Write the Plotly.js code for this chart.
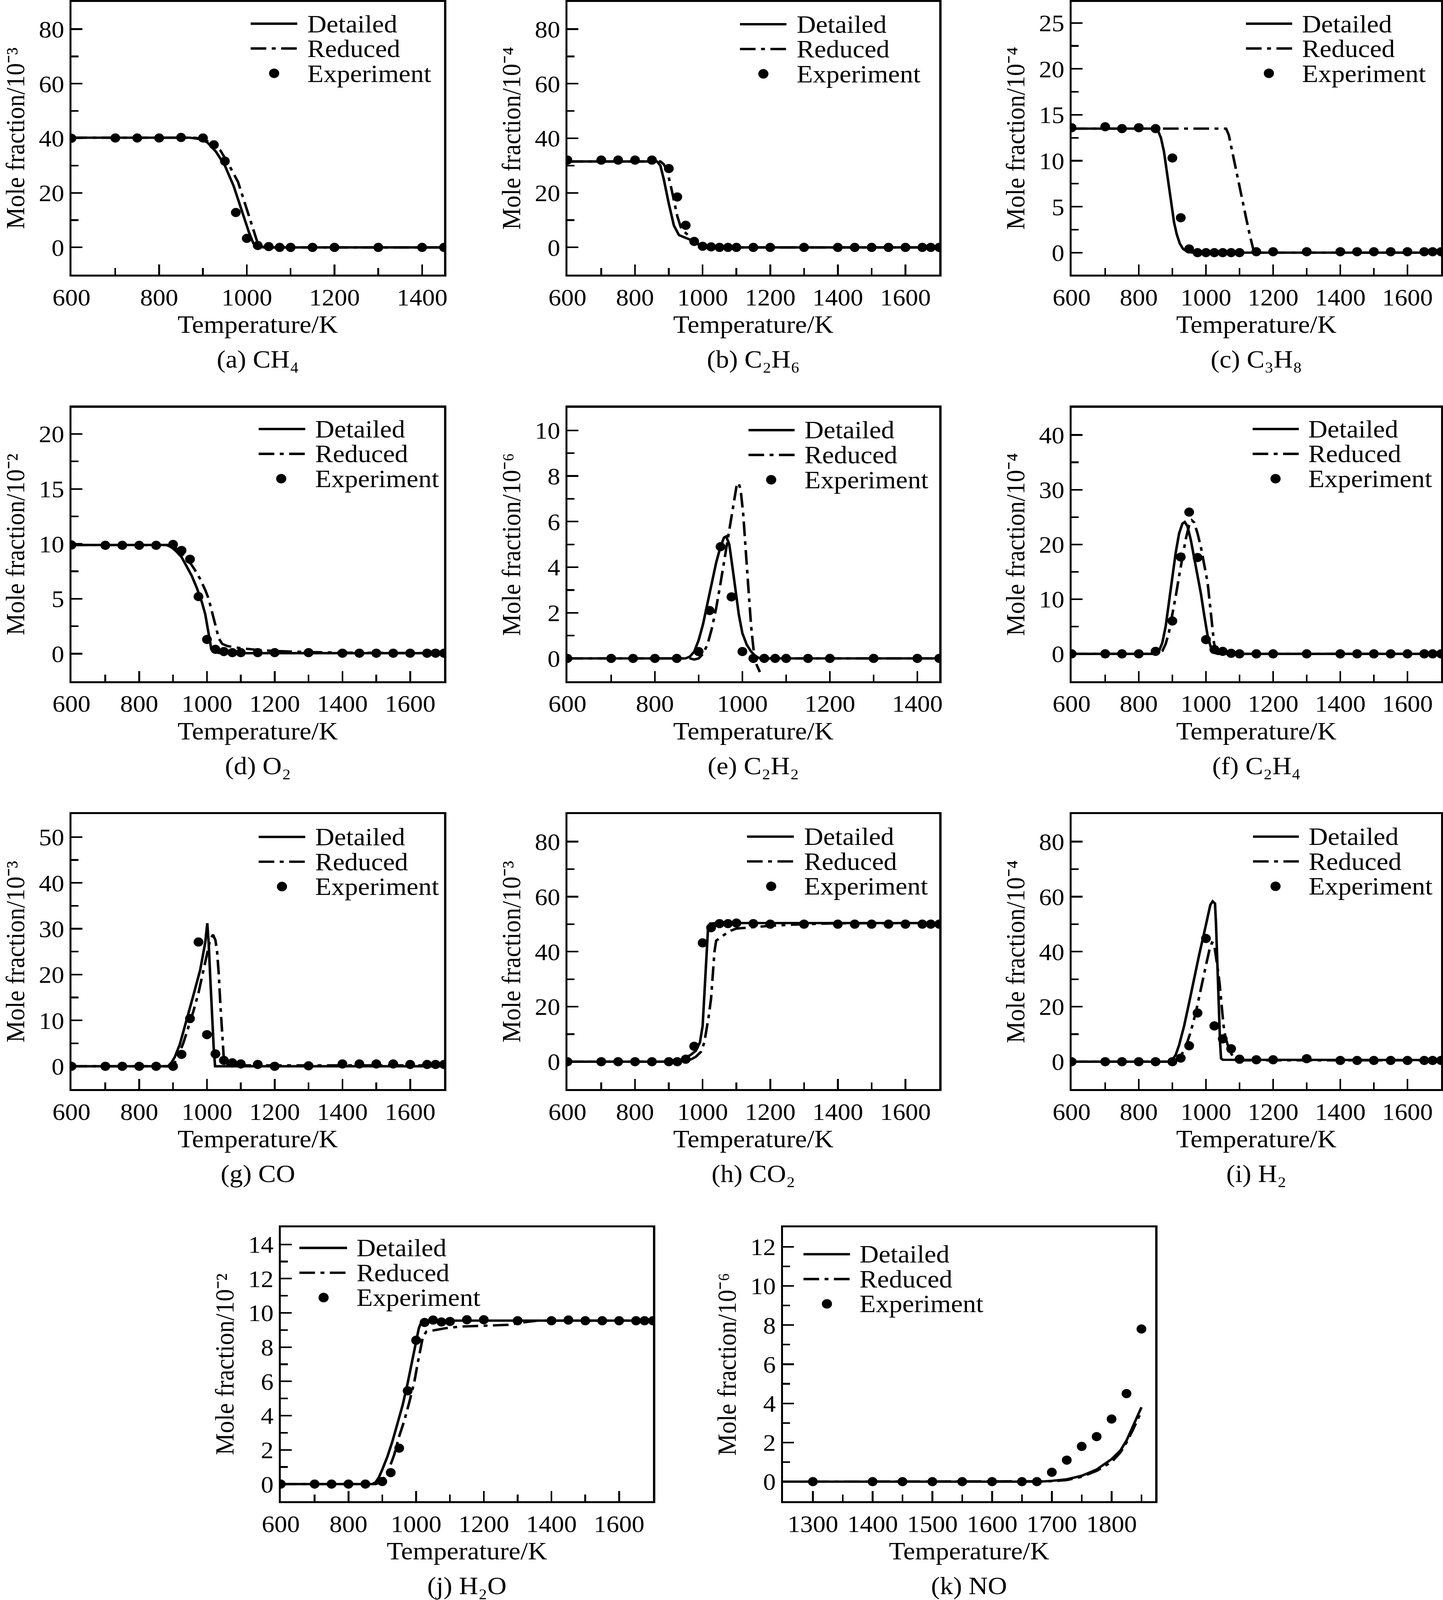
<!DOCTYPE html>
<html><head><meta charset="utf-8">
<script src="https://cdn.plot.ly/plotly-3.0.1.min.js"></script>
<style>html,body{margin:0;padding:0;background:#fff;overflow:hidden}
#wrap{width:3695px;height:4357px;transform-origin:0 0}</style>
</head><body><div id="wrap"><div id="chart"></div></div>
<script>
// ---------- DATA ----------
// (a) CH4, unit 1e-3
const T_a_det = [600,870,890,910,930,950,970,990,1005,1015,1025,1040,1450];
const CH4_det = [40.2,40.2,39.8,38.5,35,30,22.5,13,5.5,1.5,0.3,0,0];
const T_a_red = [600,880,900,920,940,960,980,1000,1015,1025,1035,1050,1450];
const CH4_red = [40.2,40.2,39.8,38.2,35.5,30,24,14,6,1.5,0.3,0,0];
const T_a_exp = [600,700,750,800,850,900,925,950,975,1000,1025,1050,1075,1100,1150,1200,1300,1400,1450];
const CH4_exp = [40,40.1,40.1,40.1,40.3,40.1,37.6,31.6,12.8,3.3,0.7,0.3,0,0,0,0,0,0,0];

// (b) C2H6, unit 1e-4
const T_b_det = [600,865,875,885,900,915,930,945,960,975,990,1005,1020,1700];
const C2H6_det = [31.5,31.5,30,25,16,8,4.5,3.8,3.0,2.0,0.8,0.1,0,0];
const T_b_red = [600,875,885,895,905,915,925,935,945,960,975,990,1005,1020,1700];
const C2H6_red = [31.5,31.5,30.5,28,23,17,11.5,7.5,5.8,4.2,2.5,1.0,0.2,0,0];
const T_b_exp = [600,700,750,800,850,900,925,950,975,1000,1025,1050,1075,1100,1150,1200,1300,1400,1450,1500,1550,1600,1650,1675,1700];
const C2H6_exp = [32,32,32,32,32,28.9,18.5,8.1,2.2,0.4,0.2,0,0,0,0,0,0,0,0,0,0,0,0,0,0];

// (c) C3H8, unit 1e-4
const T_c_det = [600,850,858,866,875,883,890,898,905,913,922,932,945,960,1700];
const C3H8_det = [13.5,13.5,13.2,12.5,11,9,7,5,3.3,2,1,0.4,0.1,0,0];
const T_c_red = [600,1060,1068,1078,1090,1100,1110,1120,1130,1140,1148,1700];
const C3H8_red = [13.5,13.5,12.8,11,9,7.2,5.3,3.7,2,0.5,0,0];
const T_c_exp = [600,700,750,800,850,900,925,950,975,1000,1025,1050,1075,1100,1150,1200,1300,1400,1450,1500,1550,1600,1650,1675,1700];
const C3H8_exp = [13.6,13.7,13.5,13.6,13.5,10.3,3.8,0.4,0,0,0,0,0,0,0.1,0.1,0.1,0.1,0.1,0.1,0.1,0.1,0.1,0.1,0.1];

// (d) O2, unit 1e-2
const T_d_det = [600,880,895,910,925,940,955,970,985,995,1003,1008,1013,1022,1040,1700];
const O2_det = [9.9,9.9,9.7,9.3,8.8,8.0,7.1,6.0,4.7,3.6,2.2,1.2,0.4,0.15,0.05,0.05];
const T_d_red = [600,890,905,920,935,950,965,980,995,1005,1015,1025,1035,1045,1060,1080,1100,1150,1200,1300,1400,1700];
const O2_red = [9.9,9.9,9.7,9.3,8.8,8.3,7.6,6.8,5.8,5.0,3.8,2.5,1.4,0.9,0.7,0.6,0.5,0.35,0.25,0.15,0.1,0.05];
const T_d_exp = [600,700,750,800,850,900,925,950,975,1000,1025,1050,1075,1100,1150,1200,1300,1400,1450,1500,1550,1600,1650,1675,1700];
const O2_exp = [9.9,9.87,9.87,9.87,9.87,9.95,9.4,8.6,5.2,1.3,0.4,0.2,0.1,0.1,0.1,0.1,0.1,0.05,0.05,0.05,0.05,0.05,0.05,0.05,0.05];

// (e) C2H2, unit 1e-6
const T_e_det = [600,870,880,890,900,910,920,930,940,950,958,963,970,978,985,992,1000,1010,1020,1030,1040,1450];
const C2H2_det = [0,0,0.08,0.3,0.8,1.5,2.4,3.3,4.2,4.9,5.3,5.35,5.0,3.9,2.9,1.9,1.1,0.6,0.3,0.1,0,0];
const T_e_red = [600,880,890,900,910,920,930,940,950,960,970,980,987,991,996,1002,1008,1014,1020,1026,1033,1040,null,1050,1450];
const C2H2_red = [0,0,-0.05,0,0.2,0.6,1.3,2.2,3.3,4.5,5.6,6.8,7.6,7.7,7.4,6.3,4.8,3.0,1.4,0.3,-0.3,-0.6,null,0,0];
const T_e_exp = [600,700,750,800,850,900,925,950,975,1000,1025,1050,1075,1100,1150,1200,1300,1400,1450];
const C2H2_exp = [0,0,0,0,0,0.3,2.1,4.9,2.7,0.3,0,0,0,0,0,0,0,0,0];

// (f) C2H4, unit 1e-4
const T_f_det = [600,850,860,870,880,890,900,910,920,930,937,945,955,965,975,985,995,1005,1015,1025,1035,1700];
const C2H4_det = [0,0,0.5,2,5,9.5,14,18.5,22,23.8,24.1,23.3,20.8,17.7,14.5,11,7,3.3,1.1,0.2,0,0];
const T_f_red = [600,860,870,880,890,900,910,920,930,940,950,958,965,975,985,995,1005,1012,1018,1024,1030,1040,1700];
const C2H4_red = [0,0,0.5,1.8,4,7,10.5,14.2,17.8,21,23.5,24.4,24,22,19.5,16.5,13,9,5,2,0.5,0,0];
const T_f_exp = [600,700,750,800,850,900,925,950,975,1000,1025,1050,1075,1100,1150,1200,1300,1400,1450,1500,1550,1600,1650,1675,1700];
const C2H4_exp = [0,0,0,0,0.45,6.0,17.7,25.9,17.6,2.6,0.8,0.45,0.1,0,0,0,0,0,0,0,0,0,0,0,0];

// (g) CO, unit 1e-3
const T_g_det = [600,885,895,905,920,940,960,980,995,1001,1005,1010,1015,1020,1024,1700];
const CO_det = [0,0,0.8,2.0,4.8,10,15.5,21,27,31.2,27,19,11,4,0,0];
const T_g_red = [600,895,905,915,930,945,960,975,990,1000,1010,1018,1025,1030,1035,1040,1045,1050,1055,1070,1700];
const CO_red = [0,0,0.8,2.3,5,8.5,12,16,21,24.5,27.8,28.7,27.5,25,20,13,6.5,1.5,0.4,0.2,0.2];
const T_g_exp = [600,700,750,800,850,900,925,950,975,1000,1025,1050,1075,1100,1150,1200,1300,1400,1450,1500,1550,1600,1650,1675,1700];
const CO_exp = [0,0,0,0,0,0,2.6,10.4,27.1,6.9,2.7,1.3,0.75,0.5,0.4,0,0.1,0.5,0.5,0.5,0.5,0.4,0.4,0.4,0.4];

// (h) CO2, unit 1e-3
const T_h_det = [600,920,935,950,965,980,992,1000,1004,1008,1012,1016,1022,1040,1700];
const CO2_det = [0,0,0.5,1.5,2.5,4,7,13,22,33,43,48.5,50.2,50.4,50.4];
const T_h_red = [600,930,950,965,980,995,1005,1012,1018,1025,1030,1035,1040,1050,1060,1080,1100,1150,1200,1300,1400,1700];
const CO2_red = [0,0,0.3,0.8,1.8,3.6,7,11.5,16.5,23,31,40,44,45,45.8,47.5,48.4,48.9,49.4,50,50.3,50.4];
const T_h_exp = [600,700,750,800,850,900,925,950,975,1000,1025,1050,1075,1100,1150,1200,1300,1400,1450,1500,1550,1600,1650,1675,1700];
const CO2_exp = [0,0,0,0,0,0,0,0.9,5.6,43.2,48.7,50.2,50.2,50.4,50.2,50,50,50,50,50,50,50,50,50,50];

// (i) H2, unit 1e-4
const T_i_det = [600,890,900,910,920,935,950,965,980,995,1005,1013,1020,1027,1030,1034,1038,1042,1045,1050,1700];
const H2_det = [0,0,0.6,2.5,6,13,21.5,30.5,39,47,53,57,58.3,57.5,50,35,20,7,1.2,0.7,0.6];
const T_i_red = [600,905,915,925,940,955,970,985,1000,1010,1018,1024,1030,1036,1041,1046,1052,1058,1065,1075,1085,1100,1700];
const H2_red = [0,0,0.6,2,5.5,11,18,26,35,40.5,43.3,43,38.5,33,28,21,13.5,9,6,3,1,0.5,0.5];
const T_i_exp = [600,700,750,800,850,900,925,950,975,1000,1025,1050,1075,1100,1150,1200,1300,1400,1450,1500,1550,1600,1650,1675,1700];
const H2_exp = [0,0,0,0,0,0,1.3,5.8,17.7,44.8,13.0,8.3,4.7,0.9,0.7,0.7,1.1,0.45,0.45,0.45,0.45,0.45,0.45,0.45,0.45];

// (j) H2O, unit 1e-2
const T_j_det = [600,870,880,890,900,915,930,945,960,975,990,1000,1008,1015,1025,1700];
const H2O_det = [0,0,0.1,0.4,0.85,1.6,2.5,3.5,4.6,5.9,7.3,8.3,9.1,9.45,9.55,9.55];
const T_j_red = [600,880,895,905,920,935,950,965,980,995,1005,1012,1020,1030,1050,1085,1130,1200,1270,1320,1360,1700];
const H2O_red = [0,0,0.1,0.35,0.9,1.7,2.8,3.7,4.8,6.0,7.1,7.9,8.6,8.9,8.97,9.1,9.2,9.25,9.3,9.45,9.55,9.55];
const T_j_exp = [600,700,750,800,850,900,925,950,975,1000,1025,1050,1075,1100,1150,1200,1300,1400,1450,1500,1550,1600,1650,1675,1700];
const H2O_exp = [0,0,0,0,0,0.15,0.67,2.1,5.45,8.4,9.44,9.58,9.47,9.5,9.6,9.6,9.54,9.54,9.58,9.54,9.54,9.54,9.54,9.54,9.54];

// (k) NO, unit 1e-6
const T_k_det = [1250,1680,1700,1725,1750,1775,1800,1815,1825,1835,1842,1850];
const NO_det = [0,0,0.04,0.12,0.3,0.62,1.15,1.6,2.1,2.8,3.3,3.8];
const T_k_red = [1250,1680,1700,1725,1750,1775,1800,1815,1825,1835,1842,1850];
const NO_red = [0,0,0.02,0.08,0.25,0.55,1.0,1.5,2.0,2.6,3.1,3.6];
const T_k_exp = [1300,1400,1450,1500,1550,1600,1650,1675,1700,1725,1750,1775,1800,1825,1850];
const NO_exp = [0,0,0,0,0,0,0,0,0.48,1.1,1.8,2.3,3.2,4.5,7.8];

const SERIES_NAMES = ['Detailed','Reduced','Experiment'];
const CAPTIONS = ['(a) CH₄','(b) C₂H₆','(c) C₃H₈','(d) O₂','(e) C₂H₂','(f) C₂H₄',
                  '(g) CO','(h) CO₂','(i) H₂','(j) H₂O','(k) NO'];
const UNIT_EXP = ['⁻³','⁻⁴','⁻⁴','⁻²','⁻⁶','⁻⁴','⁻³','⁻³','⁻⁴','⁻²','⁻⁶'];
const X_TITLE = 'Temperature/K';
const Y_TITLE = 'Mole fraction/10';

// ---------- LAYOUT / STYLE ----------
const W = 3695, H = 4357;
const FONT = "'Liberation Serif', 'Times New Roman', serif";
const COLS = {c1:[183,1137], c2:[1453,2405], c3:[2744,3690], j:[719,1672], k:[2005,2958]};
const ROWS = {r1:[5,748], r2:[1110,1855], r3:[2217,2966], r4:[3342,4088]};
const DASHDOT = '40px,14px,10px,14px';
const LW = 6.5;
const LEG_FONT = 68;          // legend glyph size
const LEG_LINE_FONT = 52;     // sets the legend row pitch (1.3 x 52 = 67.6 px)
const LEG_PITCH = 1.3 * LEG_LINE_FONT;

// legend: [line x0, line x1, text x, marker x, middle-row y] in axis-domain fractions
const PANELS = [
 {col:'c1',row:'r1',xr:[600,1450],xdt:200,xmn:100,yr:[-10,90],ydt:20,ymn:10,leg:[.481,.606,.631,.544,.829],d:[T_a_det,CH4_det],r:[T_a_red,CH4_red],e:[T_a_exp,CH4_exp]},
 {col:'c2',row:'r1',xr:[600,1700],xdt:200,xmn:100,yr:[-10,90],ydt:20,ymn:10,leg:[.464,.589,.615,.527,.827],d:[T_b_det,C2H6_det],r:[T_b_red,C2H6_red],e:[T_b_exp,C2H6_exp]},
 {col:'c3',row:'r1',xr:[600,1700],xdt:200,xmn:100,yr:[-2.4,27.3],ydt:5,ymn:2.5,leg:[.472,.597,.622,.534,.829],d:[T_c_det,C3H8_det],r:[T_c_red,C3H8_red],e:[T_c_exp,C3H8_exp]},
 {col:'c1',row:'r2',xr:[600,1700],xdt:200,xmn:100,yr:[-2.5,22.4],ydt:5,ymn:2.5,leg:[.5025,.6275,.6525,.563,.831],d:[T_d_det,O2_det],r:[T_d_red,O2_red],e:[T_d_exp,O2_exp]},
 {col:'c2',row:'r2',xr:[600,1450],xdt:200,xmn:100,yr:[-1,11],ydt:2,ymn:1,leg:[.487,.611,.636,.548,.827],d:[T_e_det,C2H2_det],r:[T_e_red,C2H2_red],e:[T_e_exp,C2H2_exp]},
 {col:'c3',row:'r2',xr:[600,1700],xdt:200,xmn:100,yr:[-5,45],ydt:10,ymn:5,leg:[.490,.615,.639,.552,.831],d:[T_f_det,C2H4_det],r:[T_f_red,C2H4_red],e:[T_f_exp,C2H4_exp]},
 {col:'c1',row:'r3',xr:[600,1700],xdt:200,xmn:100,yr:[-5,55],ydt:10,ymn:5,leg:[.5025,.6275,.6525,.565,.827],d:[T_g_det,CO_det],r:[T_g_red,CO_red],e:[T_g_exp,CO_exp]},
 {col:'c2',row:'r3',xr:[600,1700],xdt:200,xmn:100,yr:[-10,90],ydt:20,ymn:10,leg:[.483,.609,.634,.548,.828],d:[T_h_det,CO2_det],r:[T_h_red,CO2_red],e:[T_h_exp,CO2_exp]},
 {col:'c3',row:'r3',xr:[600,1700],xdt:200,xmn:100,yr:[-10,90],ydt:20,ymn:10,leg:[.491,.615,.640,.552,.828],d:[T_i_det,H2_det],r:[T_i_red,H2_red],e:[T_i_exp,H2_exp]},
 {col:'j',row:'r4',xr:[600,1700],xdt:200,xmn:100,yr:[-1,15],ydt:2,ymn:1,leg:[.050,.178,.201,.115,.834],d:[T_j_det,H2O_det],r:[T_j_red,H2O_red],e:[T_j_exp,H2O_exp]},
 {col:'k',row:'r4',xr:[1250,1873],xdt:100,xmn:50,yr:[-1,13],ydt:2,ymn:1,leg:[.055,.180,.204,.118,.811],d:[T_k_det,NO_det],r:[T_k_red,NO_red],e:[T_k_exp,NO_exp]}
];

const traces = [];
const layout = {
  width: W, height: H, margin:{l:0,r:0,t:0,b:0},
  paper_bgcolor:'#fff', plot_bgcolor:'#fff', showlegend:false,
  font:{family:FONT, color:'#000', size:68},
  annotations:[], shapes:[]
};

PANELS.forEach((p, i) => {
  const n = i === 0 ? '' : String(i + 1);
  const xa = 'x' + n, ya = 'y' + n;
  const cx = COLS[p.col], ry = ROWS[p.row];
  const common = {
    showline:true, linewidth:5.5, linecolor:'#000', mirror:true,
    ticks:'inside', ticklen:28, tickwidth:4.5, tickcolor:'#000',
    showgrid:false, zeroline:false, automargin:false, fixedrange:true,
    tickfont:{family:FONT, size:65, color:'#000'}
  };
  const minor = {ticks:'inside', ticklen:18, tickwidth:4.5, tickcolor:'#000', tick0:0, showgrid:false};
  layout['xaxis' + n] = Object.assign({}, common, {
    domain:[cx[0]/W, cx[1]/W], range:p.xr, anchor:ya, tick0:0, dtick:p.xdt,
    minor:Object.assign({dtick:p.xmn}, minor),
    title:{text:X_TITLE, font:{family:FONT, size:68, color:'#000'}, standoff:14}
  });
  layout['yaxis' + n] = Object.assign({}, common, {
    domain:[1 - ry[1]/H, 1 - ry[0]/H], range:p.yr, anchor:xa, tick0:0, dtick:p.ydt,
    minor:Object.assign({dtick:p.ymn}, minor),
    title:{text:Y_TITLE + UNIT_EXP[i], font:{family:FONT, size:67, color:'#000'}, standoff:17}
  });

  traces.push({x:p.d[0], y:p.d[1], xaxis:xa, yaxis:ya, name:SERIES_NAMES[0], mode:'lines',
               line:{color:'#000', width:LW}});
  traces.push({x:p.r[0], y:p.r[1], xaxis:xa, yaxis:ya, name:SERIES_NAMES[1], mode:'lines',
               line:{color:'#000', width:LW, dash:DASHDOT}});
  traces.push({x:p.e[0], y:p.e[1], xaxis:xa, yaxis:ya, name:SERIES_NAMES[2], mode:'markers',
               marker:{color:'#000', size:25, line:{width:0}}});

  // legend drawn inside each panel: one text block + line / marker samples
  const [lx0, lx1, tx, mx, yMid] = p.leg;
  const dy = LEG_PITCH / (ry[1] - ry[0]);
  const rows = [yMid + dy, yMid, yMid - dy];
  const xd = xa + ' domain', yd = ya + ' domain';
  layout.shapes.push({type:'line', xref:xd, yref:yd, x0:lx0, x1:lx1, y0:rows[0], y1:rows[0], line:{color:'#000', width:LW}});
  layout.shapes.push({type:'line', xref:xd, yref:yd, x0:lx0, x1:lx1, y0:rows[1], y1:rows[1], line:{color:'#000', width:LW, dash:DASHDOT}});
  layout.shapes.push({type:'circle', xref:xd, yref:yd, xsizemode:'pixel', ysizemode:'pixel',
                      xanchor:mx, yanchor:rows[2], x0:-13, x1:13, y0:-13, y1:13, fillcolor:'#000', line:{width:0}});
  layout.annotations.push({xref:xd, yref:yd, x:tx, y:yMid, xanchor:'left', yanchor:'middle', align:'left',
    text:SERIES_NAMES.map(s => '<span style="font-size:' + LEG_FONT + 'px">' + s + '</span>').join('<br>'),
    showarrow:false, font:{family:FONT, size:LEG_LINE_FONT, color:'#000'}});

  // caption under each panel
  layout.annotations.push({xref:'paper', yref:'paper', x:(cx[0]+cx[1])/2/W, y:1 - (ry[1] + 230)/H,
    xanchor:'center', yanchor:'middle', text:CAPTIONS[i], showarrow:false,
    font:{family:FONT, size:68, color:'#000'}});
});

Plotly.newPlot('chart', traces, layout, {staticPlot:true, displayModeBar:false}).then(() => {
  // fit the full figure into the visible window if the viewport is smaller than the figure
  const sx = Math.min(1, (window.innerWidth || W) / W);
  const sy = Math.min(1, (window.innerHeight || H) / H);
  if (sx < 1 || sy < 1) {
    document.getElementById('wrap').style.transform = 'scale(' + sx + ',' + sy + ')';
  }
});
</script></body></html>
